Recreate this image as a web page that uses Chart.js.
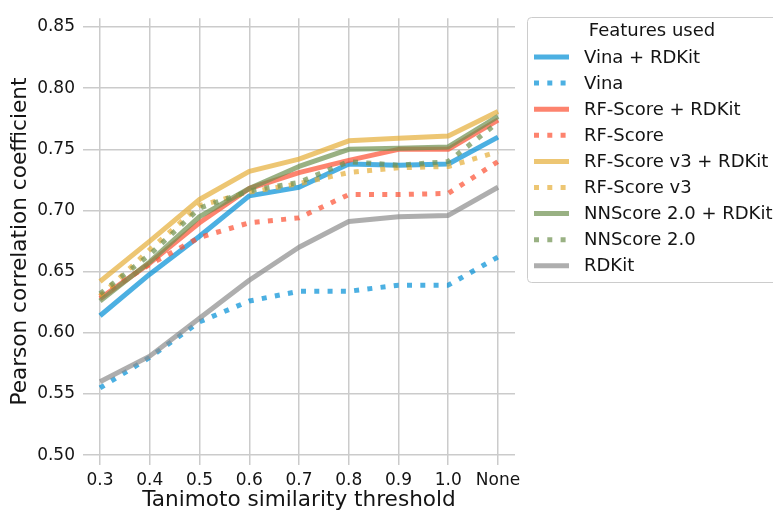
<!DOCTYPE html>
<html>
<head>
<meta charset="utf-8">
<script src="https://cdn.jsdelivr.net/npm/chart.js@4"></script>
<style>
html,body{margin:0;padding:0;background:#fff}
</style>
</head>
<body>
<canvas id="chart" width="773" height="513"></canvas>
<script>

// x categories and y ticks
const thresholds=["0.3","0.4","0.5","0.6","0.7","0.8","0.9","1.0","None"]
const yTicks=[0.50,0.55,0.60,0.65,0.70,0.75,0.80,0.85]

// pearson r per threshold
const vinaRdkit=[0.614,0.648,0.679,0.712,0.719,0.738,0.737,0.738,0.760]
const vina=[0.555,0.580,0.609,0.626,0.634,0.634,0.639,0.639,0.662]
const rfRdkit=[0.628,0.657,0.690,0.718,0.731,0.741,0.750,0.750,0.774]
const rf=[0.630,0.656,0.678,0.690,0.694,0.713,0.713,0.714,0.740]
const rf3Rdkit=[0.642,0.675,0.709,0.732,0.742,0.757,0.759,0.761,0.781]
const rf3=[0.630,0.668,0.704,0.715,0.722,0.731,0.735,0.736,0.748]
const nnRdkit=[0.626,0.658,0.695,0.718,0.736,0.750,0.751,0.752,0.777]
const nn=[0.632,0.664,0.702,0.716,0.723,0.740,0.737,0.740,0.772]
const rdkit=[0.560,0.581,0.612,0.643,0.670,0.691,0.695,0.696,0.719]

const blue="rgba(0,143,213,0.7)"
const red="rgba(252,79,48,0.7)"
const yellow="rgba(229,174,56,0.7)"
const green="rgba(109,144,79,0.7)"
const grey="rgba(139,139,139,0.7)"

const dots=[5,8.3]

function series(label,vals,color,dash){
return {
label:label,
data:vals.map((v,i)=>({x:i,y:v})),
borderColor:color,
backgroundColor:color,
borderWidth:5,
borderDash:dash||[],
borderCapStyle:"butt",
borderJoinStyle:"round",
pointRadius:0,
tension:0,
fill:false
}
}

const datasets=[
series("Vina + RDKit",vinaRdkit,blue),
series("Vina",vina,blue,dots),
series("RF-Score + RDKit",rfRdkit,red),
series("RF-Score",rf,red,dots),
series("RF-Score v3 + RDKit",rf3Rdkit,yellow),
series("RF-Score v3",rf3,yellow,dots),
series("NNScore 2.0 + RDKit",nnRdkit,green),
series("NNScore 2.0",nn,green,dots),
series("RDKit",rdkit,grey)
]
// later series on top
datasets.forEach((d,i)=>d.order=datasets.length-i)

const font="'DejaVu Sans'"
const ink="#141414"

// legend with frame, drawn by hand
const legendBox={
id:"legendBox",
afterDraw(chart){
const ctx=chart.ctx
ctx.save()
ctx.beginPath()
ctx.roundRect(527.5,17.5,270,265,4)
ctx.fillStyle="rgba(255,255,255,0.8)"
ctx.fill()
ctx.strokeStyle="#cccccc"
ctx.lineWidth=1
ctx.stroke()

ctx.fillStyle=ink
ctx.textBaseline="middle"
ctx.font="18px "+font
ctx.textAlign="center"
ctx.fillText("Features used",652,31)

ctx.textAlign="left"
chart.data.datasets.forEach((d,i)=>{
const y=57+i*26.1
ctx.beginPath()
ctx.strokeStyle=d.borderColor
ctx.lineWidth=d.borderWidth
ctx.lineCap="butt"
ctx.setLineDash(d.borderDash)
ctx.moveTo(534,y)
ctx.lineTo(569,y)
ctx.stroke()
ctx.setLineDash([])
ctx.fillText(d.label,584,y+1)
})
ctx.restore()
}
}

new Chart(document.getElementById("chart"),{
type:"line",
data:{datasets:datasets},
options:{
responsive:false,
animation:false,
layout:{padding:{left:0,right:258,top:9,bottom:0}},
plugins:{legend:{display:false},tooltip:{enabled:false}},
scales:{
x:{
type:"linear",
min:-0.342,
max:8.342,
afterBuildTicks:s=>{s.ticks=thresholds.map((t,i)=>({value:i}))},
afterFit:s=>{s.height=48},
ticks:{
callback:v=>thresholds[v],
font:{family:font,size:17},
color:ink,
padding:5,
maxRotation:0,
autoSkip:false
},
grid:{color:"#cbcbcb",lineWidth:1.5,drawTicks:false},
border:{display:false},
title:{display:true,text:"Tanimoto similarity threshold",font:{family:font,size:21.6},color:ink,padding:{top:0,bottom:0}}
},
y:{
type:"linear",
min:0.492,
max:0.8572,
afterBuildTicks:s=>{s.ticks=yTicks.map(v=>({value:v}))},
afterFit:s=>{s.width=83},
ticks:{
callback:v=>v.toFixed(2),
font:{family:font,size:17},
color:ink,
padding:8
},
grid:{color:"#cbcbcb",lineWidth:1.5,drawTicks:false},
border:{display:false},
title:{display:true,text:"Pearson correlation coefficient",font:{family:font,size:21.6},color:ink,padding:{top:7,bottom:0}}
}
}
},
plugins:[legendBox]
})

</script>
</body>
</html>
